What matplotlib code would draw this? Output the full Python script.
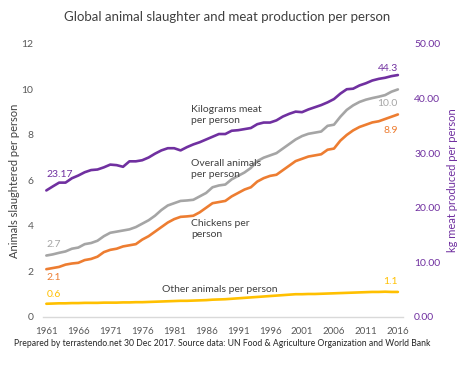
import matplotlib
matplotlib.use("Agg")
import matplotlib.pyplot as plt

years = list(range(1961, 2017))

meat_kg = [23.17, 23.9, 24.6, 24.6, 25.4, 25.9, 26.5, 26.9, 27.0, 27.4,   # 1961-1970
           27.9, 27.8, 27.5, 28.5, 28.5, 28.7, 29.2, 29.9, 30.5, 30.9,    # 1971-1980
           30.9, 30.5, 31.1, 31.6, 32.0, 32.5, 33.0, 33.5, 33.5, 34.1,    # 1981-1990
           34.2, 34.4, 34.6, 35.3, 35.6, 35.6, 36.0, 36.7, 37.2, 37.6,    # 1991-2000
           37.5, 38.0, 38.4, 38.8, 39.3, 39.9, 40.9, 41.7, 41.8, 42.4,    # 2001-2010
           42.8, 43.3, 43.6, 43.8, 44.1, 44.3]                            # 2011-2016

overall = [2.7, 2.75, 2.82, 2.88, 3.0, 3.05, 3.2, 3.25, 3.35, 3.55,
           3.7, 3.75, 3.8, 3.85, 3.95, 4.1, 4.25, 4.45, 4.7, 4.9,
           5.0, 5.1, 5.12, 5.15, 5.3, 5.45, 5.7, 5.78, 5.82, 6.05,
           6.2, 6.35, 6.55, 6.85, 7.0, 7.1, 7.2, 7.4, 7.6, 7.8,
           7.95, 8.05, 8.1, 8.15, 8.4, 8.45, 8.8, 9.1, 9.3, 9.45,
           9.55, 9.62, 9.68, 9.75, 9.9, 10.0]

chickens = [2.1, 2.15, 2.2, 2.3, 2.35, 2.38, 2.5, 2.55, 2.65, 2.85,
            2.95, 3.0, 3.1, 3.15, 3.2, 3.4, 3.55, 3.75, 3.95, 4.15,
            4.3, 4.4, 4.42, 4.45, 4.6, 4.8, 5.0, 5.05, 5.1, 5.3,
            5.45, 5.6, 5.7, 5.95, 6.1, 6.2, 6.25, 6.45, 6.65, 6.85,
            6.95, 7.05, 7.1, 7.15, 7.35, 7.4, 7.75, 8.0, 8.2, 8.35,
            8.45, 8.55, 8.6, 8.7, 8.8, 8.9]

other = [0.58, 0.59, 0.6, 0.6, 0.61, 0.61, 0.62, 0.62, 0.62, 0.63,
         0.63, 0.63, 0.64, 0.64, 0.65, 0.65, 0.66, 0.67, 0.68, 0.69,
         0.7, 0.71, 0.71, 0.72, 0.73, 0.74, 0.76, 0.77, 0.78, 0.8,
         0.82, 0.84, 0.86, 0.88, 0.9, 0.92, 0.94, 0.96, 0.98, 1.0,
         1.0, 1.01, 1.01, 1.02, 1.03, 1.04, 1.05, 1.06, 1.07, 1.08,
         1.09, 1.1, 1.1, 1.11, 1.1, 1.1]

xticks = list(range(1961, 2017, 5))
left_ticks = [0, 2, 4, 6, 8, 10, 12]
right_ticks = [0, 10, 20, 30, 40, 50]

PURPLE = "#7030A0"
GREY = "#A5A5A5"
ORANGE = "#ED7D31"
YELLOW = "#FFC000"
TXT = "#404040"
TICK = "#595959"

plt.rcParams['font.family'] = ['Lato', 'DejaVu Sans']

fig = plt.figure(figsize=(4.59, 3.69), dpi=100)
ax = fig.add_axes([0.094, 0.141, 0.784, 0.740])
ax2 = ax.twinx()

lw = 1.9
ax.plot(years, overall, color=GREY, lw=lw, solid_capstyle='round')
ax.plot(years, chickens, color=ORANGE, lw=lw, solid_capstyle='round')
ax.plot(years, other, color=YELLOW, lw=lw, solid_capstyle='round')
ax2.plot(years, meat_kg, color=PURPLE, lw=lw, solid_capstyle='round')

ax.set_xlim(1960.5, 2016.8)
ax.set_ylim(0, 12)
ax2.set_ylim(0, 50)

ax.set_xticks(xticks)
ax.set_xticklabels([str(y) for y in xticks])
ax.set_yticks(left_ticks)
ax2.set_yticks(right_ticks)
ax2.set_yticklabels([f"{v:.2f}" for v in right_ticks])

for a in (ax, ax2):
    for s in ('top', 'right', 'left'):
        a.spines[s].set_visible(False)
ax2.spines['bottom'].set_visible(False)
ax.spines['bottom'].set_color("#D9D9D9")
ax.spines['bottom'].set_linewidth(1.0)

ax.tick_params(axis='x', length=0, labelsize=7, colors=TICK, pad=7)
ax.tick_params(axis='y', length=0, labelsize=7.5, colors=TICK, pad=7)
ax2.tick_params(axis='y', length=0, labelsize=7.5, colors=PURPLE, pad=8)

ax.set_ylabel("Animals slaughtered per person", fontsize=8, color=TXT, labelpad=1)
ax2.set_ylabel("kg meat produced per person", fontsize=8, color=PURPLE, labelpad=5)

fig.text(0.495, 0.955, "Global animal slaughter and meat production per person",
         ha='center', va='center', fontsize=9.5, color=TXT)
fig.text(0.483, 0.068,
         "Prepared by terrastendo.net 30 Dec 2017. Source data: UN Food & Agriculture Organization and World Bank",
         ha='center', va='center', fontsize=6.2, color="#262626")

fs = 7.5
# start labels
ax2.annotate(f"{meat_kg[0]:.2f}", (years[0], meat_kg[0]), xytext=(0, 8),
             textcoords='offset points', ha='left', va='bottom', fontsize=fs, color=PURPLE)
ax.annotate(f"{overall[0]:.1f}", (years[0], overall[0]), xytext=(0, 4.5),
            textcoords='offset points', ha='left', va='bottom', fontsize=fs, color=GREY)
ax.annotate(f"{chickens[0]:.1f}", (years[0], chickens[0]), xytext=(0, -3),
            textcoords='offset points', ha='left', va='top', fontsize=fs, color=ORANGE)
ax.annotate(f"{other[0]:.1f}", (years[0], other[0]), xytext=(0, 3.5),
            textcoords='offset points', ha='left', va='bottom', fontsize=fs, color=YELLOW)
# end labels
ax2.annotate(f"{meat_kg[-1]:.1f}", (years[-1], meat_kg[-1]), xytext=(0, 1.5),
             textcoords='offset points', ha='right', va='bottom', fontsize=fs, color=PURPLE)
ax.annotate(f"{overall[-1]:.1f}", (years[-1], overall[-1]), xytext=(0, -7),
            textcoords='offset points', ha='right', va='top', fontsize=fs, color=GREY)
ax.annotate(f"{chickens[-1]:.1f}", (years[-1], chickens[-1]), xytext=(0, -8),
            textcoords='offset points', ha='right', va='top', fontsize=fs, color=ORANGE)
ax.annotate(f"{other[-1]:.1f}", (years[-1], other[-1]), xytext=(0, 4.5),
            textcoords='offset points', ha='right', va='bottom', fontsize=fs, color=YELLOW)

# series labels
ax.text(1983.7, 9.3, "Kilograms meat\nper person", fontsize=fs, color=TXT,
        ha='left', va='top', linespacing=1.25)
ax.text(1983.7, 6.95, "Overall animals\nper person", fontsize=fs, color=TXT,
        ha='left', va='top', linespacing=1.25)
ax.text(1983.7, 4.3, "Chickens per\nperson", fontsize=fs, color=TXT,
        ha='left', va='top', linespacing=1.25)
ax.text(1988.2, 1.2, "Other animals per person", fontsize=fs, color=TXT,
        ha='center', va='center')

fig.savefig("out.png", dpi=100)
